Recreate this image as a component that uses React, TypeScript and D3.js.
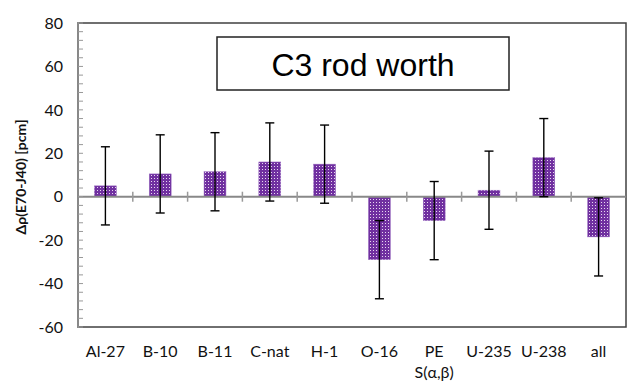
import React from "react";
import * as d3 from "d3";

const categories = ["Al-27", "B-10", "B-11", "C-nat", "H-1", "O-16", "PE\nS(α,β)", "U-235", "U-238", "all"];
const values = [5, 10.5, 11.5, 16, 15, -29, -11, 3, 18, -18.5];
const errors = [18, 18, 18, 18, 18, 18, 18, 18, 18, 18];
const yTicks = [-60, -40, -20, 0, 20, 40, 60, 80];
const title = "C3 rod worth";
const yTitle = "Δρ(E70-J40) [pcm]";

const W = 630, H = 385;
const M = { left: 78, right: 626, top: 23, bottom: 327 };

export default function App() {
  const x = d3.scaleBand<string>().domain(categories).range([M.left, M.right]).paddingInner(0).paddingOuter(0);
  const y = d3.scaleLinear().domain([-60, 80]).range([M.bottom, M.top]);
  const minor = d3.range(-60, 81, 4);
  const bw = x.bandwidth() * 0.4;
  const font = "Lato, 'Open Sans', sans-serif";
  return (
    <svg width={W} height={H} style={{ position: "absolute", left: 0, top: 0 }}>
      <defs>
        <pattern id="dots" width="3" height="3" patternUnits="userSpaceOnUse">
          <rect width="3" height="3" fill="#7030A0" />
          <rect x="1" y="1" width="1" height="1" fill="#e8d8f0" />
        </pattern>
      </defs>
      <rect width={W} height={H} fill="#fff" />
      {/* frame */}
      <rect x={M.left} y={M.top} width={M.right - M.left} height={M.bottom - M.top} fill="none" stroke="#404040" strokeWidth={1.5} />
      {/* bars */}
      {categories.map((c, i) => {
        const v = values[i];
        const cx = x(c)! + x.bandwidth() / 2;
        return (
          <rect key={c} x={cx - bw / 2} y={Math.min(y(v), y(0))} width={bw} height={Math.abs(y(v) - y(0))} fill="url(#dots)" stroke="#9a6cc0" strokeWidth={0.5} />
        );
      })}
      {/* zero axis */}
      <line x1={M.left} x2={M.right} y1={y(0)} y2={y(0)} stroke="#888" strokeWidth={2} />
      {categories.slice(1).map((c) => (
        <line key={c} x1={x(c)!} x2={x(c)!} y1={y(0) - 5} y2={y(0) + 5} stroke="#999" strokeWidth={1.5} />
      ))}
      {/* error bars */}
      {categories.map((c, i) => {
        const v = values[i], e = errors[i];
        const cx = x(c)! + x.bandwidth() / 2;
        return (
          <g key={c} stroke="#000" strokeWidth={1.4}>
            <line x1={cx} x2={cx} y1={y(v + e)} y2={y(v - e)} />
            <line x1={cx - 4.5} x2={cx + 4.5} y1={y(v + e)} y2={y(v + e)} />
            <line x1={cx - 4.5} x2={cx + 4.5} y1={y(v - e)} y2={y(v - e)} />
          </g>
        );
      })}
      {/* left axis */}
      <line x1={M.left} x2={M.left} y1={M.top - 1} y2={M.bottom + 1} stroke="#888" strokeWidth={2} />
      {minor.map((t) => (
        <line key={t} x1={M.left} x2={M.left + 5} y1={y(t)} y2={y(t)} stroke="#999" strokeWidth={1} />
      ))}
      {yTicks.map((t) => (
        <text key={t} x={63} y={y(t)} dy="0.36em" textAnchor="end" fontFamily={font} fontSize={16} fill="#111">{t}</text>
      ))}
      {/* x labels */}
      {categories.map((c) => {
        const cx = x(c)! + x.bandwidth() / 2;
        return (
          <text key={c} x={cx} y={357} textAnchor="middle" fontFamily={font} fontSize={16} fill="#111">
            {c.split("\n").map((l, j) => (
              <tspan key={j} x={cx} dy={j === 0 ? 0 : 21}>{l}</tspan>
            ))}
          </text>
        );
      })}
      {/* y title */}
      <text transform={`translate(26,${(M.top + M.bottom) / 2 + 2}) rotate(-90)`} textAnchor="middle" fontFamily={font} fontSize={14} fontWeight="bold" fill="#111">{yTitle}</text>
      {/* title box */}
      <rect x={217} y={37} width={292} height={53} fill="#fff" stroke="#222" strokeWidth={1.5} />
      <text x={363} y={76} textAnchor="middle" fontFamily="'Liberation Sans', Arial, sans-serif" fontSize={32} fill="#000">{title}</text>
    </svg>
  );
}
